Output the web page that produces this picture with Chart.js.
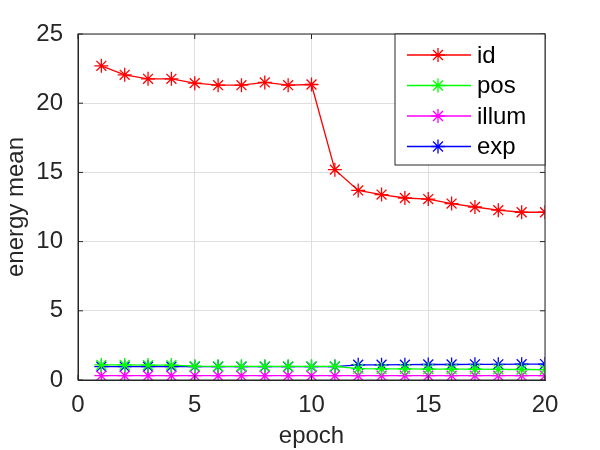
<!DOCTYPE html>
<html>
<head>
<meta charset="utf-8">
<script src="https://cdn.jsdelivr.net/npm/chart.js@4"></script>
<style>
  body { margin: 0; background: #fff; }
  #wrap { width: 600px; height: 450px; }
</style>
</head>
<body>
<div id="wrap"><canvas id="grafica" width="600" height="450"></canvas></div>
<script>
// energia mitjana per epoch
const epochs = [1, 2, 3, 4, 5, 6, 7, 8, 9, 10, 11, 12, 13, 14, 15, 16, 17, 18, 19, 20];
const idVals = [22.7, 22.05, 21.76, 21.76, 21.45, 21.3, 21.3, 21.5, 21.3, 21.35, 15.2, 13.7, 13.4, 13.15, 13.07, 12.75, 12.5, 12.27, 12.12, 12.12];
const posVals = [1.09, 1.09, 1.08, 1.08, 1.0, 0.99, 0.99, 0.99, 0.99, 0.99, 0.98, 0.82, 0.8, 0.8, 0.79, 0.79, 0.78, 0.77, 0.76, 0.75];
const illumVals = [0.31, 0.31, 0.31, 0.31, 0.31, 0.31, 0.31, 0.31, 0.31, 0.31, 0.31, 0.31, 0.31, 0.31, 0.31, 0.31, 0.31, 0.31, 0.31, 0.31];
const expVals = [0.96, 0.96, 0.96, 0.96, 0.96, 0.96, 0.96, 0.96, 0.96, 0.96, 0.97, 1.1, 1.1, 1.11, 1.12, 1.12, 1.13, 1.13, 1.14, 1.15];
const xTicks = [0, 5, 10, 15, 20];
const yTicks = [0, 5, 10, 15, 20, 25];

Chart.defaults.font.family = "'Liberation Sans', Arial, sans-serif";
Chart.defaults.color = "#262626";

function serie(label, vals, color) {
  return {
    label: label,
    data: epochs.map((e, i) => ({ x: e, y: vals[i] })),
    borderColor: color,
    backgroundColor: color,
    borderWidth: 1.3,
    pointStyle: "star",
    pointRadius: 7,
    pointBorderWidth: 1.3,
    pointHoverRadius: 7,
    tension: 0
  };
}

const data = {
  datasets: [
    serie("id", idVals, "rgb(255, 0, 0)"),
    serie("pos", posVals, "rgb(0, 255, 0)"),
    serie("illum", illumVals, "rgb(255, 0, 255)"),
    serie("exp", expVals, "rgb(0, 0, 255)")
  ]
};

// caixa, marques interiors i llegenda a l'estil matlab
const caixa = {
  id: "caixa",
  afterDraw(chart) {
    const ctx = chart.ctx;
    const a = chart.chartArea;
    const sx = chart.scales.x, sy = chart.scales.y;
    ctx.save();
    ctx.strokeStyle = "#262626";
    ctx.lineWidth = 1;
    ctx.strokeRect(a.left, a.top, a.right - a.left, a.bottom - a.top);
    ctx.beginPath();
    xTicks.forEach(v => {
      const px = sx.getPixelForValue(v);
      ctx.moveTo(px, a.bottom); ctx.lineTo(px, a.bottom - 5);
      ctx.moveTo(px, a.top); ctx.lineTo(px, a.top + 5);
    });
    yTicks.forEach(v => {
      const py = sy.getPixelForValue(v);
      ctx.moveTo(a.left, py); ctx.lineTo(a.left + 5, py);
      ctx.moveTo(a.right, py); ctx.lineTo(a.right - 5, py);
    });
    ctx.stroke();

    // llegenda
    const lx = 395, ly = 34, lw = 150, lh = 131;
    ctx.fillStyle = "#fff";
    ctx.fillRect(lx, ly, lw, lh);
    ctx.strokeRect(lx, ly, lw, lh);
    ctx.font = "24px 'Liberation Sans', Arial, sans-serif";
    ctx.textBaseline = "middle";
    chart.data.datasets.forEach((ds, i) => {
      const y = ly + 21 + i * 30.5;
      ctx.strokeStyle = ds.borderColor;
      ctx.lineWidth = 1.3;
      ctx.beginPath();
      ctx.moveTo(lx + 12, y);
      ctx.lineTo(lx + 76, y);
      ctx.stroke();
      Chart.helpers.drawPoint(ctx, { pointStyle: "star", radius: 7, borderWidth: 1.3 }, lx + 43, y);
      ctx.fillStyle = "#000";
      ctx.fillText(ds.label, lx + 82, y + 1);
    });
    ctx.restore();
  }
};

const config = {
  type: "line",
  data: data,
  options: {
    responsive: false,
    animation: false,
    layout: { padding: { left: 0, right: 55, top: 34, bottom: 0 } },
    plugins: { legend: { display: false }, tooltip: { enabled: false } },
    scales: {
      x: {
        type: "linear",
        min: 0,
        max: 20,
        afterBuildTicks: (s) => { s.ticks = xTicks.map(v => ({ value: v })); },
        grid: { color: "#dfdfdf", drawTicks: false },
        border: { color: "#262626" },
        ticks: { font: { size: 24 }, padding: 11, maxRotation: 0 },
        title: { display: true, text: "epoch", font: { size: 24, lineHeight: 1.1 }, padding: { top: 0, bottom: 0 } },
        afterFit: (s) => { s.height = 70; }
      },
      y: {
        min: 0,
        max: 25,
        afterBuildTicks: (s) => { s.ticks = yTicks.map(v => ({ value: v })); },
        grid: { color: "#dfdfdf", drawTicks: false },
        border: { color: "#262626" },
        ticks: { font: { size: 24 }, padding: 15 },
        title: { display: true, text: "energy mean", font: { size: 24, lineHeight: 1.2 }, padding: { top: 2, bottom: 0 } },
        afterFit: (s) => { s.width = 78; }
      }
    }
  },
  plugins: [caixa]
};

const grafica = document.getElementById("grafica");
let myChart = new Chart(grafica, config);
</script>
</body>
</html>
